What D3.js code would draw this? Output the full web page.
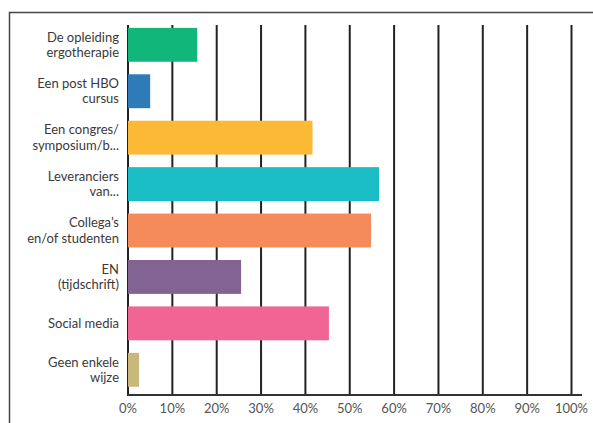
<!DOCTYPE html>
<html>
<head>
<meta charset="utf-8">
<script src="https://cdn.jsdelivr.net/npm/d3@7"></script>
<style>
  body { margin: 0; background: #fff; }
  svg { display: block; font-family: "Lato", "Open Sans", sans-serif; }
</style>
</head>
<body>
<svg id="chart" width="593" height="423"></svg>
<script>
// categories (label lines) and values in percent
const categories = [
  ["De opleiding", "ergotherapie"],
  ["Een post HBO", "cursus"],
  ["Een congres/", "symposium/b..."],
  ["Leveranciers", "van..."],
  ["Collega\u2019s", "en/of studenten"],
  ["EN", "(tijdschrift)"],
  ["Social media"],
  ["Geen enkele", "wijze"]
];
const values = [15.6, 5.0, 41.6, 56.6, 54.8, 25.5, 45.3, 2.5];
const colors = ["#10b67a", "#2f7bb9", "#fbb935", "#1bbdc5", "#f58a5a", "#826394", "#f06594", "#c8b879"];
const ticks = [0, 10, 20, 30, 40, 50, 60, 70, 80, 90, 100];

const svg = d3.select("#chart");

// frame round the chart
svg.append("path")
  .attr("d", "M9.5,423 V12.5 H593")
  .attr("fill", "none")
  .attr("stroke", "#444")
  .attr("stroke-width", 1.5);

const x = d3.scaleLinear().domain([0, 100]).range([128, 571.5]);
const y = d3.scaleBand().domain(d3.range(categories.length)).range([21.6, 393]).paddingInner(0.27).paddingOuter(0.135);

// gridlines
svg.append("g")
  .selectAll("line")
  .data(ticks)
  .join("line")
  .attr("x1", d => x(d)).attr("x2", d => x(d))
  .attr("y1", 25).attr("y2", 395)
  .attr("stroke", "#222")
  .attr("stroke-width", 2);

// bars
svg.append("g")
  .selectAll("rect")
  .data(values)
  .join("rect")
  .attr("x", x(0))
  .attr("y", (d, i) => y(i))
  .attr("width", d => x(d) - x(0))
  .attr("height", y.bandwidth())
  .attr("fill", (d, i) => colors[i]);

// bottom axis line
svg.append("line")
  .attr("x1", 127).attr("x2", 582)
  .attr("y1", 395).attr("y2", 395)
  .attr("stroke", "#333")
  .attr("stroke-width", 2);

// tick labels
svg.append("g")
  .selectAll("text")
  .data(ticks)
  .join("text")
  .attr("x", d => x(d))
  .attr("y", 413)
  .attr("text-anchor", "middle")
  .attr("font-size", 13)
  .attr("fill", "#555")
  .text(d => d + "%");

// category labels
const lab = svg.append("g")
  .selectAll("text")
  .data(categories)
  .join("text")
  .attr("text-anchor", "end")
  .attr("font-size", 13)
  .attr("fill", "#3a3a3a");

lab.each(function(lines, i) {
  const cy = y(i) + y.bandwidth() / 2;
  const lh = 15.5;
  const top = cy - (lines.length - 1) * lh / 2 + 4.5;
  d3.select(this).selectAll("tspan")
    .data(lines)
    .join("tspan")
    .attr("x", 119)
    .attr("y", (d, j) => top + j * lh)
    .text(d => d);
});
</script>
</body>
</html>
